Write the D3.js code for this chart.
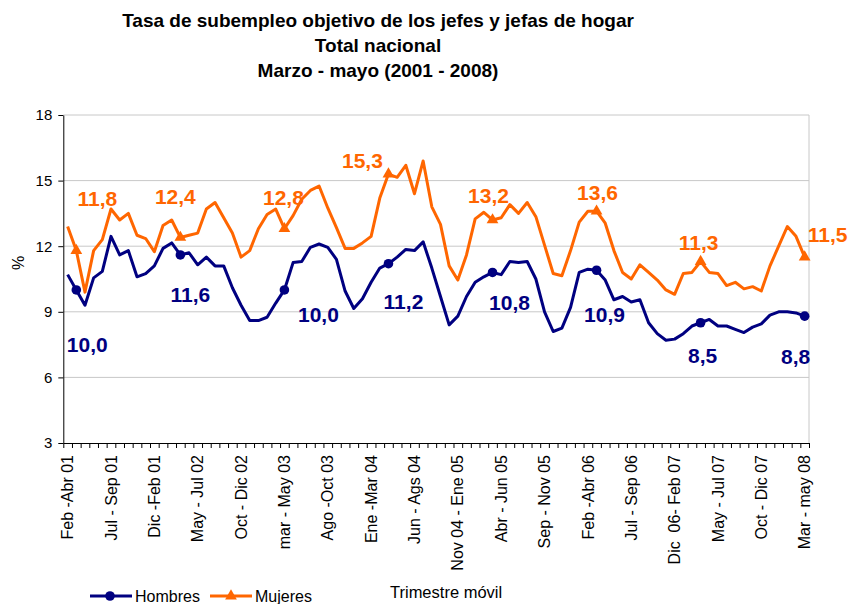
<!DOCTYPE html>
<html>
<head>
  <meta charset="utf-8">
  <title>Tasa de subempleo objetivo de los jefes y jefas de hogar</title>
  <script src="https://d3js.org/d3.v7.min.js"></script>
  <style>
    body { margin: 0; background: #fff; }
    text { font-family: "Liberation Sans", Arial, sans-serif; }
    .grid line { stroke: #c8c8c8; }
    .axis path, .axis line { stroke: #000; }
  </style>
</head>
<body>
<script>
  const width = 850;
  const height = 604;

  // moving quarters, Feb-Abr 01 .. Mar-may 08 (86 points), label every 5th
  const tickLabels = ["Feb -Abr 01", "Jul - Sep 01", "Dic -Feb 01", "May - Jul 02", "Oct - Dic 02",
    "mar - May 03", "Ago -Oct 03", "Ene -Mar 04", "Jun - Ags 04", "Nov 04 - Ene 05", "Abr - Jun 05",
    "Sep - Nov 05", "Feb -Abr 06", "Jul - Sep 06", "Dic  06- Feb 07", "May - Jul 07", "Oct - Dic 07",
    "Mar - may 08"];
  const tickStep = 5;

  const hombres = [10.7, 10.0, 9.3, 10.55, 10.85, 12.45, 11.6, 11.8, 10.6, 10.75,
    11.1, 11.9, 12.15, 11.6, 11.7, 11.15, 11.5, 11.1, 11.1, 10.1,
    9.3, 8.6, 8.6, 8.75, 9.4, 10.0, 11.25, 11.3, 11.95, 12.1,
    11.95, 11.4, 9.95, 9.15, 9.6, 10.35, 11.0, 11.2, 11.5, 11.85,
    11.8, 12.2, 11.0, 9.7, 8.4, 8.8, 9.7, 10.35, 10.6, 10.8,
    10.7, 11.3, 11.25, 11.3, 10.5, 9.0, 8.1, 8.25, 9.2, 10.8,
    10.95, 10.9, 10.45, 9.55, 9.7, 9.45, 9.55, 8.5, 8.0, 7.7,
    7.75, 8.0, 8.35, 8.5, 8.65, 8.35, 8.35, 8.2, 8.05, 8.3,
    8.45, 8.85, 9.0, 9.0, 8.95, 8.8];

  const mujeres = [12.9, 11.8, 9.9, 11.8, 12.3, 13.7, 13.2, 13.5, 12.5, 12.35,
    11.75, 12.95, 13.2, 12.4, 12.5, 12.6, 13.7, 14.0, 13.3, 12.6,
    11.5, 11.8, 12.8, 13.45, 13.7, 12.8, 13.4, 14.15, 14.55, 14.75,
    13.75, 12.85, 11.9, 11.9, 12.15, 12.45, 14.2, 15.3, 15.15, 15.7,
    14.4, 15.9, 13.8, 13.0, 11.1, 10.45, 11.6, 13.25, 13.55, 13.2,
    13.3, 13.9, 13.5, 14.0, 13.35, 12.05, 10.75, 10.65, 11.8, 13.1,
    13.6, 13.6, 13.05, 11.8, 10.8, 10.5, 11.15, 10.8, 10.45, 10.0,
    9.8, 10.75, 10.8, 11.3, 10.8, 10.75, 10.2, 10.35, 10.05, 10.15,
    9.95, 11.1, 12.0, 12.9, 12.45, 11.5];

  // Mar-May of each year carries a marker and a value label
  const markerIdx = [1, 13, 25, 37, 49, 61, 73, 85];
  const yTicks = [3, 6, 9, 12, 15, 18];

  // label offsets from marker (px), as placed by hand in the original
  const hombresLabelOff = [[11, 55], [10, 40], [34, 25], [15, 38], [17, 30], [8, 44], [2, 33], [-9, 40]];
  const mujeresLabelOff = [[21, -52], [-5, -41], [-1, -31], [-26, -13], [-4, -24], [1, -19], [-2, -19], [23, -22]];

  const navy = "#000080";
  const orange = "#ff6600";

  const plotLeft = 63.3, plotRight = 809, plotTop = 115, plotBottom = 443;

  const svg = d3.select("body").append("svg")
    .attr("width", width)
    .attr("height", height);

  // title
  const title = ["Tasa de subempleo objetivo de los jefes y jefas de hogar", "Total nacional", "Marzo - mayo (2001 - 2008)"];
  svg.selectAll(".title")
    .data(title)
    .join("text")
    .attr("class", "title")
    .attr("x", 378)
    .attr("y", (d, i) => 27 + i * 25)
    .attr("text-anchor", "middle")
    .style("font-size", "19px")
    .style("font-weight", "bold")
    .text(d => d);

  const idx = d3.range(hombres.length);
  const x = d3.scaleBand().domain(idx).range([plotLeft, plotRight]);
  const xb = d3.scaleLinear().domain([0, idx.length]).range([plotLeft, plotRight]);
  const cx = i => x(i) + x.bandwidth() / 2;
  const y = d3.scaleLinear().domain([3, 18]).range([plotBottom, plotTop]);

  // gridlines
  svg.append("g").attr("class", "grid")
    .selectAll("line")
    .data(yTicks.filter(d => d > 3))
    .join("line")
    .attr("x1", plotLeft).attr("x2", plotRight)
    .attr("y1", d => y(d)).attr("y2", d => y(d));
  svg.append("line")
    .attr("x1", plotRight).attr("x2", plotRight)
    .attr("y1", plotTop).attr("y2", plotBottom)
    .attr("stroke", "#c8c8c8");

  // y axis
  const yAxis = svg.append("g").attr("class", "axis")
    .attr("transform", `translate(${plotLeft},0)`)
    .call(d3.axisLeft(y).tickValues(yTicks).tickSize(5).tickSizeOuter(0).tickPadding(6));
  yAxis.selectAll("text").style("font-size", "15px").attr("fill", "#000");

  // x axis: ticks at every category boundary
  svg.append("g").attr("class", "axis")
    .attr("transform", `translate(0,${plotBottom})`)
    .call(d3.axisBottom(xb).tickValues(d3.range(idx.length + 1)).tickFormat("").tickSize(5).tickSizeOuter(0));

  svg.append("g")
    .selectAll("text")
    .data(tickLabels)
    .join("text")
    .attr("transform", (d, i) => `translate(${cx(i * tickStep)},${plotBottom + 12}) rotate(-90)`)
    .attr("text-anchor", "end")
    .attr("dy", "0.35em")
    .style("font-size", "16px")
    .style("white-space", "pre")
    .text(d => d);

  svg.append("text")
    .attr("transform", `translate(18,263) rotate(-90)`)
    .attr("text-anchor", "middle")
    .attr("dy", "0.35em")
    .style("font-size", "16px")
    .text("%");

  svg.append("text")
    .attr("x", 390).attr("y", 598)
    .style("font-size", "16.5px")
    .text("Trimestre móvil");

  // lines
  const line = data => d3.line().x((d, i) => cx(i)).y(d => y(d))(data);
  const fmt = v => d3.format(".1f")(v).replace(".", ",");
  const tri = d3.symbol().type(d3.symbolTriangle).size(60);

  const series = [
    {values: hombres, color: navy, marker: "circle", off: hombresLabelOff},
    {values: mujeres, color: orange, marker: "triangle", off: mujeresLabelOff}
  ];

  series.forEach(s => {
    svg.append("path")
      .attr("d", line(s.values))
      .attr("fill", "none")
      .attr("stroke", s.color)
      .attr("stroke-width", 3)
      .attr("stroke-linejoin", "round");

    const g = svg.append("g");
    if (s.marker === "circle") {
      g.selectAll("circle").data(markerIdx).join("circle")
        .attr("cx", i => cx(i)).attr("cy", i => y(s.values[i]))
        .attr("r", 4.8).attr("fill", s.color);
    } else {
      g.selectAll("path").data(markerIdx).join("path")
        .attr("d", tri)
        .attr("transform", i => `translate(${cx(i)},${y(s.values[i])})`)
        .attr("fill", s.color);
    }

    g.selectAll("text").data(markerIdx).join("text")
      .attr("x", (i, k) => cx(i) + s.off[k][0])
      .attr("y", (i, k) => y(s.values[i]) + s.off[k][1])
      .attr("dy", "0.35em")
      .attr("text-anchor", "middle")
      .attr("fill", s.color)
      .style("font-size", "21px")
      .style("font-weight", "bold")
      .text(i => fmt(s.values[i]));
  });

  // legend
  const legend = [
    {name: "Hombres", color: navy, marker: "circle", x: 90},
    {name: "Mujeres", color: orange, marker: "triangle", x: 210}
  ];
  const lg = svg.append("g").selectAll("g").data(legend).join("g")
    .attr("transform", d => `translate(${d.x},596)`);
  lg.append("line")
    .attr("x1", 0).attr("x2", 42)
    .attr("stroke", d => d.color).attr("stroke-width", 3);
  lg.filter(d => d.marker === "circle").append("circle")
    .attr("cx", 20).attr("r", 4.8).attr("fill", d => d.color);
  lg.filter(d => d.marker === "triangle").append("path")
    .attr("d", tri).attr("transform", "translate(21,0)").attr("fill", d => d.color);
  lg.append("text")
    .attr("x", 45).attr("y", 6)
    .style("font-size", "16px")
    .text(d => d.name);
</script>
</body>
</html>
